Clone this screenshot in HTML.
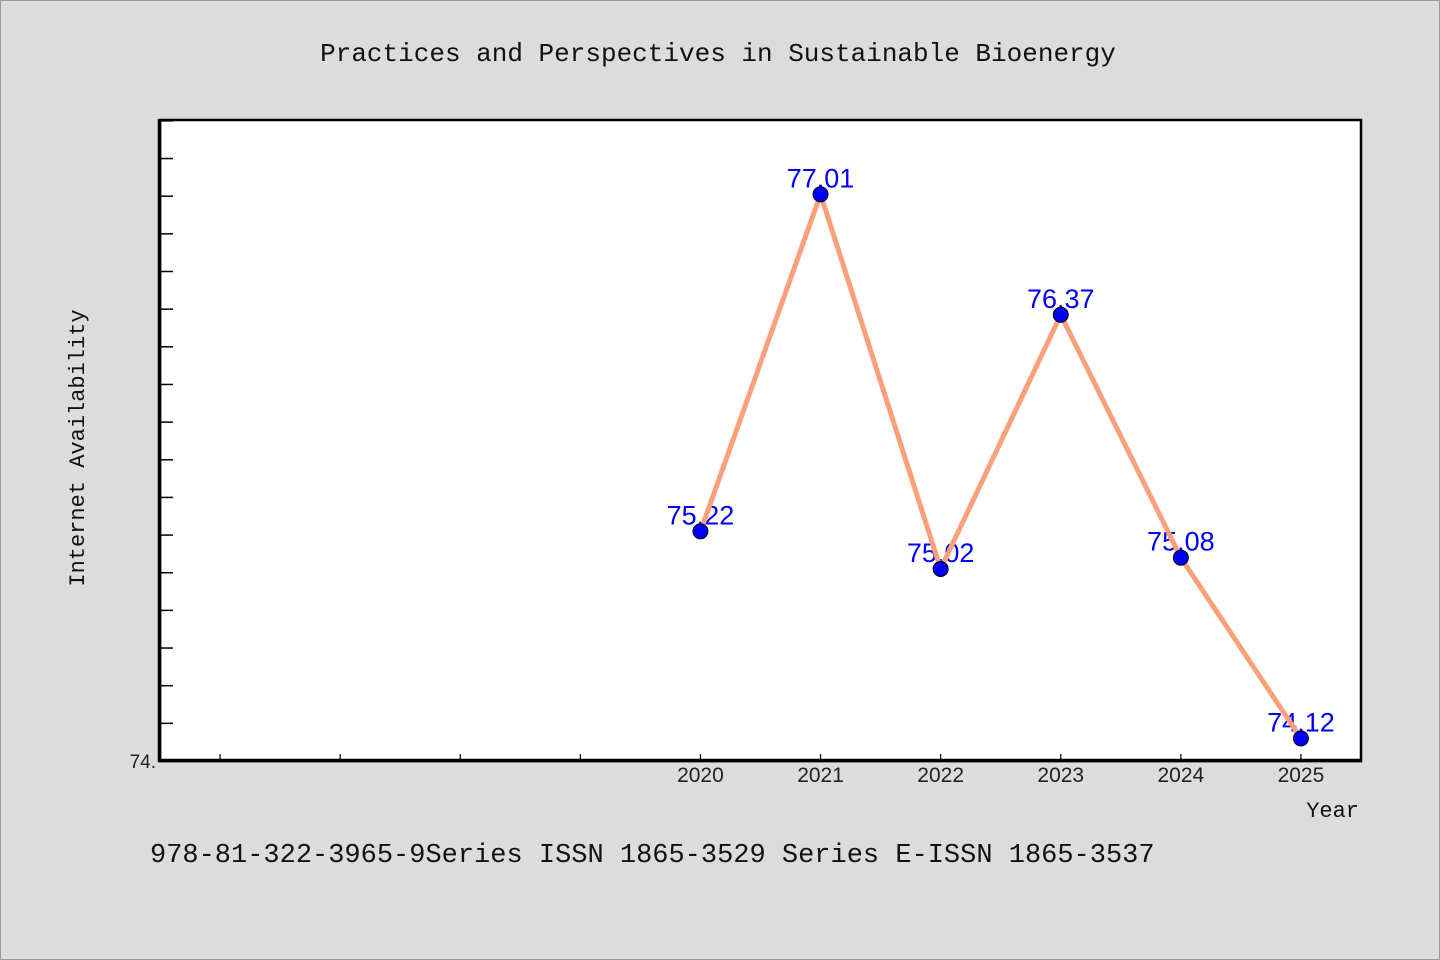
<!DOCTYPE html>
<html><head><meta charset="utf-8"><style>
html,body{margin:0;padding:0;background:#dcdcdc;}
svg{display:block;}
</style></head><body>
<svg id="chart" width="1440" height="960" xmlns="http://www.w3.org/2000/svg">
<rect x="0.5" y="0.5" width="1439" height="959" fill="#dcdcdc" stroke="#999"/>
<text x="718" y="61" text-anchor="middle" font-family="'WenQuanYi Zen Hei Mono','Liberation Mono',monospace" font-size="26" fill="#111">Practices and Perspectives in Sustainable Bioenergy</text>
<rect x="160" y="120" width="1201" height="641" fill="#fff" stroke="#000" stroke-width="2.5"/>
<line x1="159.5" y1="119" x2="159.5" y2="762" stroke="#000" stroke-width="3.5"/>
<line x1="158" y1="760.5" x2="1362" y2="760.5" stroke="#000" stroke-width="3.5"/>
<g id="yticks"></g><g id="xticks"></g><g id="labels"></g><g id="series"></g><g id="markers"></g>
<text transform="translate(84,448) rotate(-90)" text-anchor="middle" font-family="'WenQuanYi Zen Hei Mono','Liberation Mono',monospace" font-size="22" fill="#111">Internet Availability</text>
<text x="1359" y="817" text-anchor="end" font-family="'WenQuanYi Zen Hei Mono','Liberation Mono',monospace" font-size="22" fill="#111">Year</text>
<text x="150" y="862" font-family="'WenQuanYi Zen Hei Mono','Liberation Mono',monospace" font-size="27" fill="#111">978-81-322-3965-9Series ISSN 1865-3529 Series E-ISSN 1865-3537</text>
</svg>
<script>
const years=[2020,2021,2022,2023,2024,2025];
const values=[75.22,77.01,75.02,76.37,75.08,74.12];
const valueLabels=["75.22","77.01","75.02","76.37","75.08","74.12"];
const xTickLabels=["2020","2021","2022","2023","2024","2025"];
const yTickLabels=["74."];
const NS="http://www.w3.org/2000/svg";
const xMin=2015.5,xMax=2025.5,yMin=74,yMax=77.41;
const X=v=>160+(v-xMin)/(xMax-xMin)*1201;
const Y=v=>761-(v-yMin)/(yMax-yMin)*642;
function mk(t,a,p){const e=document.createElementNS(NS,t);for(const k in a)e.setAttribute(k,a[k]);document.getElementById(p).appendChild(e);return e;}
for(let v=74.2;v<yMax;v+=0.2){
 const e=mk('line',{x1:160,x2:173,y1:Y(v),y2:Y(v),stroke:'#000','stroke-width':1.5},'yticks');
 
 
}
const yl=mk('text',{x:156,y:Y(74)+7,'text-anchor':'end','font-family':'Liberation Sans,sans-serif','font-size':19,fill:'#222'},'yticks');
yl.textContent=yTickLabels[0];


for(let y=2016;y<=2025;y++){
 const e=mk('line',{x1:X(y),x2:X(y),y1:754,y2:760,stroke:'#000','stroke-width':1.2},'xticks');
 
 
}
years.forEach((y,i)=>{
 const t=mk('text',{x:X(y),y:782,'text-anchor':'middle','font-family':'Liberation Sans,sans-serif','font-size':21,fill:'#222'},'xticks');
 t.textContent=xTickLabels[i];
 
 
 const l=mk('text',{x:X(y),y:Y(values[i])-7,'text-anchor':'middle','font-family':'Liberation Sans,sans-serif','font-size':27,fill:'#0000ff'},'labels');
 l.textContent=valueLabels[i];
 
 
 const c=mk('circle',{cx:X(y),cy:Y(values[i]),r:7.5,fill:'#0000ff',stroke:'#000','stroke-width':1},'markers');
 
 
});
const p=mk('polyline',{points:years.map((y,i)=>X(y)+','+Y(values[i])).join(' '),fill:'none',stroke:'#fa a07a'.replace(' ',''),'stroke-width':5,'stroke-linejoin':'round'},'series');


</script>
</body></html>
